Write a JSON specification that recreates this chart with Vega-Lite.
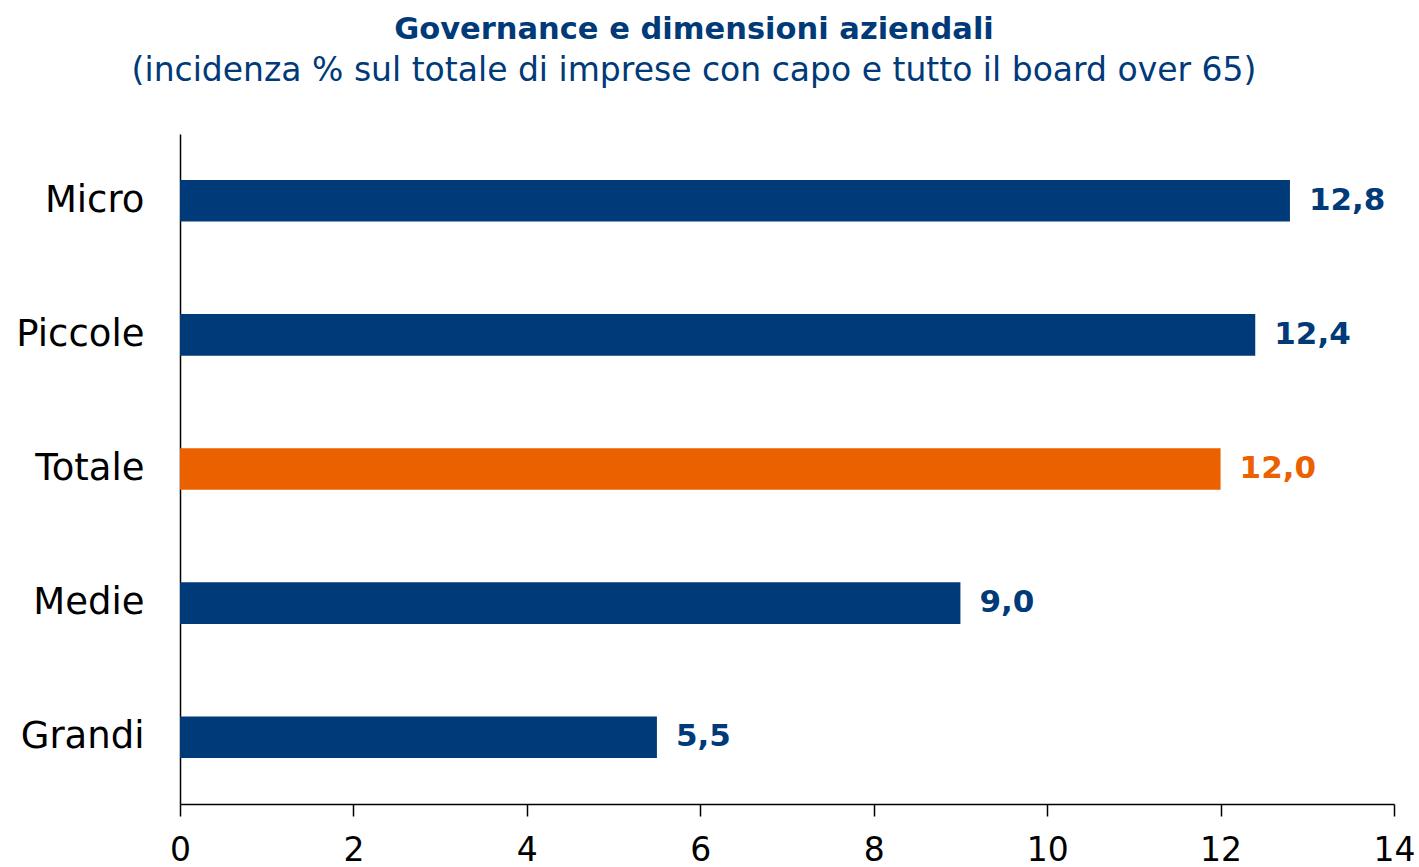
{
  "$schema": "https://vega.github.io/schema/vega-lite/v6.json",
  "width": 1214,
  "height": 670,
  "autosize": {"type": "none"},
  "padding": {"left": 180, "top": 134, "right": 25, "bottom": 63},
  "config": {
    "view": {"stroke": null},
    "font": "DejaVu Sans",
    "locale": {"number": {"decimal": ",", "thousands": ".", "grouping": [3], "currency": ["€", ""]}}
  },
  "title": {
    "text": "Governance e dimensioni aziendali",
    "subtitle": "(incidenza % sul totale di imprese con capo e tutto il board over 65)",
    "anchor": "middle",
    "frame": "group",
    "dx": -93,
    "offset": 46,
    "font": "DejaVu Sans",
    "fontSize": 30.5,
    "fontWeight": "bold",
    "color": "#003A78",
    "subtitleFont": "DejaVu Sans",
    "subtitleFontSize": 33,
    "subtitleColor": "#003A78",
    "subtitlePadding": 10
  },
  "data": {
    "values": [
      {"dimensione": "Micro", "valore": 12.8, "tipo": "classe"},
      {"dimensione": "Piccole", "valore": 12.4, "tipo": "classe"},
      {"dimensione": "Totale", "valore": 12.0, "tipo": "totale"},
      {"dimensione": "Medie", "valore": 9.0, "tipo": "classe"},
      {"dimensione": "Grandi", "valore": 5.5, "tipo": "classe"}
    ]
  },
  "encoding": {
    "y": {
      "field": "dimensione",
      "type": "nominal",
      "sort": null,
      "scale": {"paddingInner": 0.69, "paddingOuter": 0.343},
      "axis": {
        "title": null,
        "ticks": false,
        "labelFontSize": 37,
        "labelColor": "#000000",
        "labelPadding": 36,
        "domainColor": "#000000",
        "domainWidth": 1.5
      }
    },
    "x": {
      "field": "valore",
      "type": "quantitative",
      "scale": {"domain": [0, 14], "nice": false},
      "axis": {
        "title": null,
        "values": [0, 2, 4, 6, 8, 10, 12, 14],
        "format": "d",
        "grid": false,
        "tickSize": 12,
        "tickColor": "#000000",
        "tickWidth": 1.5,
        "domainColor": "#000000",
        "domainWidth": 1.5,
        "labelFontSize": 33,
        "labelColor": "#000000",
        "labelPadding": 18,
        "labelFlush": false
      }
    },
    "color": {
      "field": "tipo",
      "type": "nominal",
      "scale": {"domain": ["classe", "totale"], "range": ["#003A78", "#EB6100"]},
      "legend": null
    }
  },
  "layer": [
    {"mark": {"type": "bar"}},
    {
      "mark": {"type": "text", "align": "left", "baseline": "middle", "dx": 19, "fontSize": 31, "fontWeight": "bold"},
      "encoding": {"text": {"field": "valore", "type": "quantitative", "format": ".1f"}}
    }
  ]
}
